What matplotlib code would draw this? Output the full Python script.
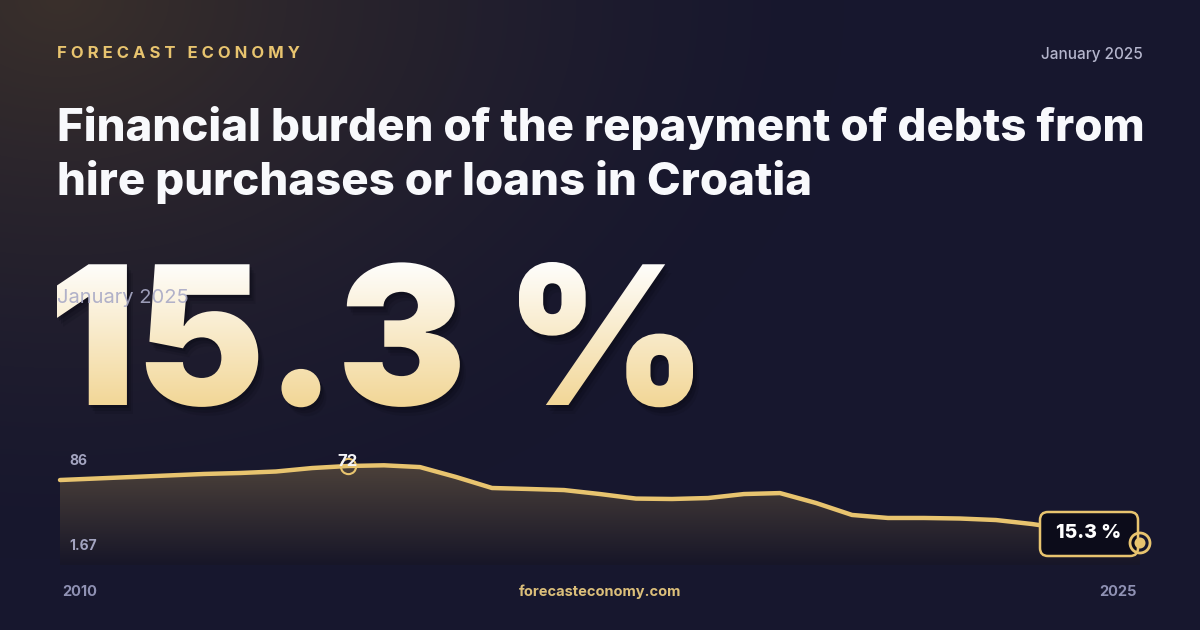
import numpy as np
import matplotlib
matplotlib.use("Agg")
import matplotlib.pyplot as plt
from matplotlib.textpath import TextPath
from matplotlib.font_manager import FontProperties
from matplotlib.patches import PathPatch, FancyBboxPatch, Circle, Polygon
from matplotlib.transforms import Affine2D

# data (semiannual points)
years = [2010 + 0.5 * k for k in range(31)]
values = [61.8, 62.9, 64.0, 65.1, 66.2, 66.9, 68.0, 70.5, 72.0, 72.5,
          71.2, 64.0, 56.0, 55.3, 54.5, 51.6, 48.3, 48.0, 48.7, 51.6,
          52.3, 45.1, 36.4, 34.2, 34.2, 33.8, 32.7, 29.8, 26.0, 20.5, 15.3]
peak_year, peak_label = 2014.0, "72"
last_label = "15.3 %"
axis_labels = ["86", "1.67"]
start_label, end_label = "2010", "2025"

title_lines = ["Financial burden of the repayment of debts from",
               "hire purchases or loans in Croatia"]
brand = "FORECAST ECONOMY"
date = "January 2025"
big = "15.3 %"
site = "forecasteconomy.com"

W, H = 1200, 630
GOLD = "#e8c46f"
GREY = "#8f91b3"

fig = plt.figure(figsize=(12, 6.3), dpi=100)

# background layer in pixel coords (y up)
bg = fig.add_axes([0, 0, 1, 1])
bg.set_xlim(0, W)
bg.set_ylim(0, H)
bg.axis("off")
yy, xx = np.mgrid[0:H, 0:W]
d = np.sqrt(((xx - 60) / 1.4) ** 2 + ((H - yy)) ** 2)
glow = np.clip(1 - d / 560, 0, 1) ** 1.5
base = np.array([0x17, 0x17, 0x2e]) / 255
warm = np.array([0x3a, 0x30, 0x2b]) / 255
img = base[None, None, :] * (1 - glow[..., None]) + warm[None, None, :] * glow[..., None]
bg.imshow(img, extent=[0, W, 0, H], origin="lower", aspect="auto", zorder=0)

# header, letter-spaced brand as one text
spaced = "   ".join(" ".join(w) for w in brand.split())
bg.text(57, H - 58, spaced, fontsize=12, family="Inter", weight="bold", color=GOLD,
        ha="left", va="baseline", zorder=5)
bg.text(1143, H - 59, date, fontsize=11, family="Inter", weight="medium",
        color="#b4b5cc", ha="right", va="baseline", zorder=5)
bg.text(57, H - 141, title_lines[0], fontsize=32.8, family="Inter", weight="heavy",
        color="#f8f9fc", ha="left", va="baseline", zorder=5)
bg.text(57, H - 195, title_lines[1], fontsize=32.8, family="Inter", weight="heavy",
        color="#f8f9fc", ha="left", va="baseline", zorder=5)

# big gradient number
fp_big = FontProperties(family="Inter", weight="black")
tp = TextPath((0, 0), big, prop=fp_big, size=100)
ext = tp.get_extents()
sx = (693 - 57) / ext.width
sy = (405 - 262) / ext.y1
tr = Affine2D().scale(sx, sy).translate(57 - ext.x0 * sx, H - 405)
path_big = tr.transform_path(tp)
for dx, dy, a in [(2, -3, 0.35), (4, -6, 0.25), (6, -9, 0.15)]:
    bg.add_patch(PathPatch(Affine2D().translate(dx, dy).transform_path(path_big),
                           fc="#0b0b16", ec="none", alpha=a, zorder=2))
grad = np.linspace(0, 1, 200)[:, None]
top = np.array([1.0, 1.0, 1.0])
bot = np.array([0xf2, 0xd6, 0x95]) / 255
gimg = bot[None, None, :] * (1 - grad[..., None]) + top[None, None, :] * grad[..., None]
gimg = np.repeat(gimg, 2, axis=1)
im = bg.imshow(gimg, extent=[50, 700, H - 408, H - 258], origin="lower",
               aspect="auto", zorder=3)
clip = PathPatch(path_big, fc="none", ec="none", transform=bg.transData)
bg.add_patch(clip)
im.set_clip_path(clip)
bg.text(57, H - 303, date, fontsize=14.5, family="Inter", color="#a9aac6",
        alpha=0.9, ha="left", va="baseline", zorder=6)

# footer
bg.text(62, H - 592, start_label, fontsize=10.5, family="Inter", weight="bold",
        color=GREY, ha="left", va="center", zorder=5)
bg.text(1137, H - 592, end_label, fontsize=10.5, family="Inter", weight="bold",
        color=GREY, ha="right", va="center", zorder=5)
bg.text(600, H - 592, site, fontsize=10.5, family="Inter", weight="bold",
        color="#dcbf7a", ha="center", va="center", zorder=5)

# chart
ax = fig.add_axes([60 / W, (H - 565) / H, 1080 / W, 125 / H])
ax.set_xlim(years[0], years[-1])
ax.set_ylim(0, 90.9)
ax.axis("off")
ax.patch.set_alpha(0)
x = np.array(years)
y = np.array(values)
poly = Polygon(np.column_stack([np.r_[x, x[-1], x[0]], np.r_[y, 0, 0]]),
               closed=True, fc="none", ec="none")
ax.add_patch(poly)
fg = np.linspace(0, 1, 200)[:, None]
c_top = np.array([0x4c, 0x41, 0x3a]) / 255
c_bot = np.array([0x17, 0x16, 0x28]) / 255
fimg = c_bot[None, None, :] * (1 - fg[..., None]) + c_top[None, None, :] * fg[..., None]
fimg = np.repeat(fimg, 2, axis=1)
fim = ax.imshow(fimg, extent=[x[0], x[-1], 0, 73], origin="lower", aspect="auto", zorder=1)
fim.set_clip_path(poly)
ax.plot(x, y, color=GOLD, lw=3.2, solid_capstyle="round", zorder=3, clip_on=False)

ax.text(0.009, 75.6, axis_labels[0], transform=ax.get_yaxis_transform(),
        fontsize=10, family="Inter", weight="bold", color="#a3a4c0", ha="left", va="center")
ax.text(0.009, 13.8, axis_labels[1], transform=ax.get_yaxis_transform(),
        fontsize=10, family="Inter", weight="bold", color="#a3a4c0", ha="left", va="center")

pk = values[years.index(peak_year)]
ax.plot([peak_year], [pk], "o", ms=11, mfc="none", mec=GOLD, mew=1.5, zorder=4, clip_on=False)
ax.text(peak_year, pk + 3.5, peak_label, fontsize=12, family="Inter", weight="bold",
        color="#f4f4f8", ha="center", va="center", zorder=5)

# overlay for end label and marker
ov = fig.add_axes([0, 0, 1, 1])
ov.set_xlim(0, W)
ov.set_ylim(0, H)
ov.axis("off")
ov.patch.set_alpha(0)
ov.add_patch(FancyBboxPatch((1040, H - 556), 98, 44, boxstyle="round,pad=0,rounding_size=8",
                            fc="#0c0c1a", ec=GOLD, lw=1.8, zorder=1))
ov.text(1089, H - 533, last_label, fontsize=14, family="Inter", weight="heavy",
        color="white", ha="center", va="center", zorder=2)
ov.add_patch(Circle((1140, H - 543), 10, fc="none", ec=GOLD, lw=2, zorder=3))
ov.add_patch(Circle((1140, H - 543), 5.5, fc=GOLD, ec="none", zorder=3))

fig.savefig("out.png", dpi=100)
